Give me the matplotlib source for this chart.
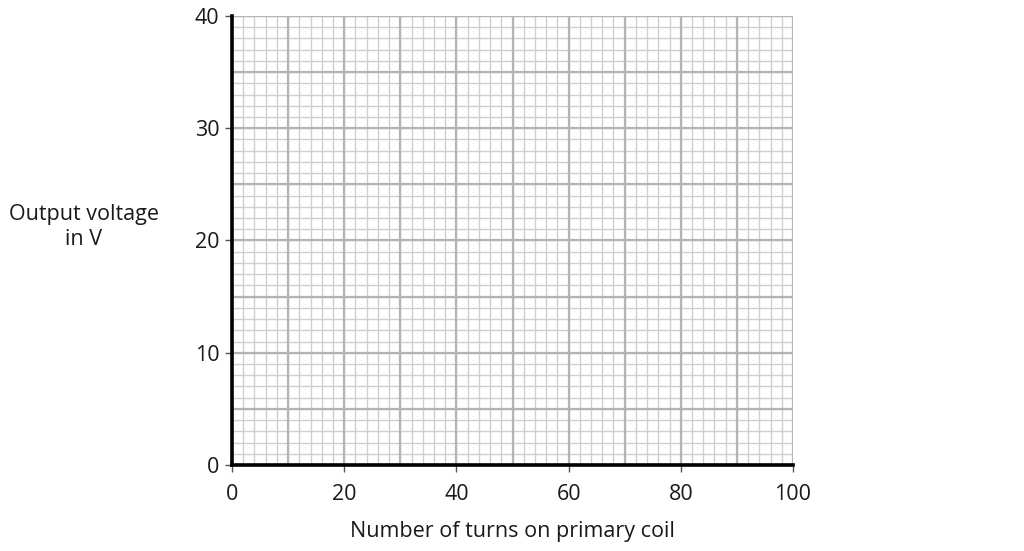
import matplotlib.pyplot as plt
import numpy as np

plt.rcParams['font.family'] = ['Open Sans', 'DejaVu Sans']

# axis ranges and tick labels
x_limits = (0, 100)
y_limits = (0, 40)
x_labels = [0, 20, 40, 60, 80, 100]
y_labels = [0, 10, 20, 30, 40]
x_major_step, x_minor_step = 10, 2
y_major_step, y_minor_step = 5, 1

fig = plt.figure(figsize=(10.24, 5.51), dpi=100)
ax = fig.add_axes([232 / 1024, 1 - 465 / 551, (793 - 232) / 1024, (465 - 16) / 551])
ax.set_xlim(*x_limits)
ax.set_ylim(*y_limits)

# graph paper grid
minor_col, major_col = '#cfcfcf', '#b4b4b4'
for x in np.arange(x_limits[0], x_limits[1] + 0.01, x_minor_step):
    ax.axvline(x, color=minor_col, lw=1.0, zorder=1)
for y in np.arange(y_limits[0], y_limits[1] + 0.01, y_minor_step):
    ax.axhline(y, color=minor_col, lw=1.0, zorder=1)
for x in np.arange(x_limits[0], x_limits[1] + 0.01, x_major_step):
    ax.axvline(x, color=major_col, lw=1.6, zorder=2)
for y in np.arange(y_limits[0], y_limits[1] + 0.01, y_major_step):
    ax.axhline(y, color=major_col, lw=1.6, zorder=2)

for side in ['top', 'right']:
    ax.spines[side].set_visible(False)
for side in ['left', 'bottom']:
    ax.spines[side].set_linewidth(2.6)
    ax.spines[side].set_color('black')
    ax.spines[side].set_zorder(5)

ax.set_xticks(x_labels)
ax.set_yticks(y_labels)
ax.tick_params(axis='both', direction='out', length=5, width=1.0,
               color='#555555', labelsize=15.5, labelcolor='#1a1a1a')
ax.tick_params(axis='x', pad=9)
ax.tick_params(axis='y', pad=4)

fig.text(84 / 1024, 1 - 227 / 551, 'Output voltage\nin V', ha='center', va='center',
         fontsize=15.5, color='#1a1a1a', linespacing=1.25)
fig.text(512 / 1024, 1 - 532 / 551, 'Number of turns on primary coil', ha='center',
         va='center', fontsize=15.5, color='#1a1a1a')

fig.savefig('out.png', dpi=100)
